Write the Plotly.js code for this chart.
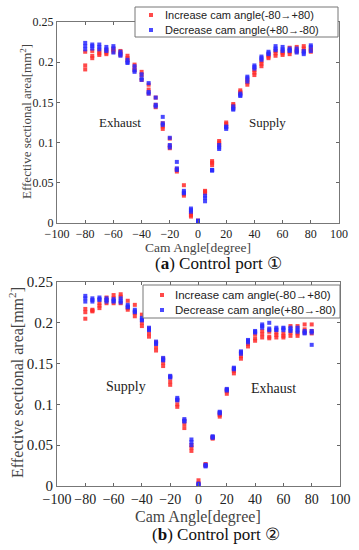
<!DOCTYPE html>
<html>
<head>
<meta charset="utf-8">
<script src="https://cdn.plot.ly/plotly-3.0.1.min.js"></script>
<style>
html,body{margin:0;padding:0;background:#fff;}
#chart{width:359px;height:550px;}
</style>
</head>
<body>
<div id="chart"></div>
<script>
// Cam angles (degree)
const angles = [-80,-75,-70,-65,-60,-55,-50,-45,-40,-35,-30,-25,-20,-15,-10,-5,0,5,10,15,20,25,30,35,40,45,50,55,60,65,70,75,80];

// (a) Control port 1 — Increase cam angle, three repeated runs
const aInc1 = [0.213,0.214,0.214,0.215,0.217,0.214,0.208,0.197,0.188,0.172,0.156,0.124,0.105,0.067,0.047,0.012,0.003,0.040,0.077,0.102,0.125,0.148,0.165,0.178,0.190,0.201,0.209,0.214,0.213,0.218,0.219,0.220,0.217];
const aInc2 = [0.196,0.208,0.211,0.212,0.215,0.212,0.205,0.193,0.184,0.166,0.147,0.120,0.096,0.066,0.036,0.010,0.002,0.039,0.075,0.100,0.123,0.146,0.163,0.175,0.187,0.198,0.207,0.211,0.211,0.213,0.215,0.217,0.215];
const aInc3 = [0.191,0.205,0.209,0.210,0.213,0.209,0.202,0.190,0.178,0.161,0.144,0.117,0.093,0.064,0.034,0.008,0.001,0.037,0.072,0.097,0.120,0.143,0.161,0.172,0.184,0.195,0.205,0.208,0.209,0.210,0.213,0.214,0.213];
// (a) Control port 1 — Decrease cam angle
const aDec1 = [0.224,0.222,0.222,0.219,0.220,0.213,0.203,0.195,0.185,0.174,0.156,0.132,0.106,0.076,0.040,0.018,0.003,0.034,0.066,0.097,0.120,0.145,0.161,0.182,0.196,0.207,0.213,0.220,0.219,0.217,0.217,0.214,0.221];
const aDec2 = [0.220,0.220,0.219,0.216,0.217,0.210,0.200,0.190,0.180,0.163,0.147,0.124,0.097,0.068,0.038,0.016,0.002,0.031,0.066,0.094,0.119,0.142,0.159,0.180,0.194,0.205,0.211,0.217,0.216,0.215,0.214,0.212,0.219];
const aDec3 = [0.216,0.217,0.216,0.214,0.212,0.208,0.199,0.188,0.178,0.161,0.145,0.122,0.094,0.066,0.037,0.014,0.001,0.027,0.065,0.092,0.117,0.141,0.158,0.176,0.192,0.203,0.210,0.215,0.214,0.214,0.212,0.210,0.214];

// (b) Control port 2 — Increase cam angle
const bInc1 = [0.217,0.216,0.224,0.231,0.234,0.235,0.227,0.222,0.210,0.193,0.176,0.156,0.133,0.105,0.080,0.050,0.007,0.027,0.060,0.089,0.118,0.143,0.163,0.177,0.186,0.190,0.189,0.188,0.187,0.196,0.196,0.198,0.198];
const bInc2 = [0.213,0.215,0.221,0.228,0.230,0.232,0.218,0.212,0.200,0.187,0.170,0.151,0.128,0.100,0.076,0.047,0.003,0.026,0.059,0.087,0.116,0.141,0.159,0.174,0.181,0.186,0.183,0.185,0.184,0.188,0.187,0.192,0.190];
const bInc3 = [0.205,0.214,0.218,0.224,0.224,0.224,0.216,0.208,0.196,0.183,0.166,0.147,0.124,0.097,0.071,0.043,0.002,0.025,0.058,0.085,0.113,0.138,0.156,0.171,0.178,0.182,0.181,0.182,0.182,0.184,0.184,0.188,0.187];
// (b) Control port 2 — Decrease cam angle
const bDec1 = [0.233,0.230,0.231,0.230,0.229,0.230,0.222,0.216,0.206,0.194,0.177,0.157,0.135,0.108,0.082,0.057,0.003,0.026,0.061,0.091,0.119,0.145,0.165,0.179,0.190,0.198,0.200,0.194,0.194,0.194,0.194,0.190,0.190];
const bDec2 = [0.230,0.228,0.229,0.228,0.227,0.227,0.220,0.214,0.204,0.192,0.175,0.155,0.134,0.106,0.080,0.054,0.002,0.025,0.060,0.090,0.118,0.144,0.164,0.178,0.189,0.196,0.193,0.192,0.193,0.192,0.191,0.188,0.188];
const bDec3 = [0.226,0.226,0.228,0.226,0.226,0.225,0.219,0.213,0.203,0.191,0.174,0.154,0.133,0.105,0.079,0.050,0.001,0.024,0.059,0.089,0.117,0.143,0.162,0.176,0.188,0.194,0.191,0.191,0.191,0.190,0.189,0.187,0.173];

const incName = 'Increase cam angle(-80\u2192+80)';
const decName = 'Decrease cam angle(+80\u2192-80)';
const xTickVals = [-100,-80,-60,-40,-20,0,20,40,60,80,100];
const yTickVals = [0,0.05,0.1,0.15,0.2,0.25];
const yTickText = ['0','0.05','0.1','0.15','0.2','0.25'];

function join(runs){
  const xs=[], ys=[];
  runs.forEach(r=>{ r.forEach((v,i)=>{ xs.push(angles[i]); ys.push(v); }); });
  return {x:xs, y:ys};
}
const RED='#ff2a2a', BLUE='#2a2aff';
function tr(runs, name, color, xa, ya){
  const d=join(runs);
  return {x:d.x, y:d.y, type:'scatter', mode:'markers', name:name,
    xaxis:xa, yaxis:ya, showlegend:false,
    marker:{symbol:'square', size:4, color:color, opacity:0.85, line:{width:0}}};
}

const data = [
  tr([aInc1,aInc2,aInc3], incName, RED, 'x','y'),
  tr([aDec1,aDec2,aDec3], decName, BLUE, 'x','y'),
  tr([bInc1,bInc2,bInc3], incName, RED, 'x2','y2'),
  tr([bDec1,bDec2,bDec3], decName, BLUE, 'x2','y2')
];

const W=359,H=550;
const px=(a,b)=>[a/W,b/W];
const py=(top,bot)=>[1-bot/H,1-top/H];
const PX=v=>v/W, PY=v=>1-v/H;
const serif='Liberation Serif, Times New Roman, serif';
const sans='Liberation Sans, Arial, sans-serif';
function xax(domain, anchor, fs){
  return {domain:domain, anchor:anchor, range:[-100,100], tickvals:xTickVals, tickangle:0,
    ticks:'inside', ticklen:3, tickcolor:'#666', showline:true, linecolor:'#777', linewidth:1,
    mirror:'ticks', showgrid:false, zeroline:false, tickfont:{family:serif,size:fs,color:'#222'}};
}
function yax(domain, anchor, fs){
  return {domain:domain, anchor:anchor, range:[0,0.25], tickvals:yTickVals, ticktext:yTickText,
    ticks:'inside', ticklen:3, tickcolor:'#666', showline:true, linecolor:'#777', linewidth:1,
    mirror:'ticks', showgrid:false, zeroline:false, tickfont:{family:serif,size:fs,color:'#222'}};
}
function ann(text,x,y,size,extra){
  return Object.assign({text:text, x:x, y:y, xref:'paper', yref:'paper', showarrow:false,
    xanchor:'center', yanchor:'middle', font:{family:serif,size:size,color:'#222'}}, extra||{});
}
function legendBox(x0,y0,x1,y1){
  return {type:'rect', xref:'paper', yref:'paper', x0:PX(x0), x1:PX(x1), y0:PY(y1), y1:PY(y0),
    fillcolor:'#fff', line:{color:'#777', width:1}, layer:'above'};
}
function legendMark(cx,cy,color){
  return {type:'rect', xref:'paper', yref:'paper', x0:PX(cx-2), x1:PX(cx+2), y0:PY(cy+2), y1:PY(cy-2),
    fillcolor:color, opacity:0.85, line:{width:0}, layer:'above'};
}

const layout = {
  width:W, height:H, margin:{l:0,r:0,t:0,b:0}, paper_bgcolor:'#fff', plot_bgcolor:'#fff',
  showlegend:false,
  xaxis: xax(px(57,339),'y',12),
  yaxis: yax(py(22,223),'x',12),
  xaxis2: xax(px(57,340),'y2',14),
  yaxis2: yax(py(282,486),'x2',15),
  shapes:[
    legendBox(135,7,338,37), legendMark(151,15,RED), legendMark(151,30,BLUE),
    legendBox(143,285,340,318), legendMark(162,295,RED), legendMark(162,310,BLUE)
  ],
  annotations:[
    {text:'Exhaust', x:-55, y:0.125, xref:'x', yref:'y', showarrow:false, xanchor:'center', yanchor:'middle', font:{family:serif,size:13,color:'#222'}},
    {text:'Supply', x:49, y:0.125, xref:'x', yref:'y', showarrow:false, xanchor:'center', yanchor:'middle', font:{family:serif,size:13,color:'#222'}},
    {text:'Supply', x:-51, y:0.122, xref:'x2', yref:'y2', showarrow:false, xanchor:'center', yanchor:'middle', font:{family:serif,size:14,color:'#222'}},
    {text:'Exhaust', x:53, y:0.12, xref:'x2', yref:'y2', showarrow:false, xanchor:'center', yanchor:'middle', font:{family:serif,size:14,color:'#222'}},
    ann('Cam Angle[degree]', PX(198), PY(247), 13.5, {font:{family:serif,size:13.5,color:'#444'}}),
    ann('Cam Angle[degree]', PX(198), PY(517), 16, {font:{family:serif,size:16,color:'#444'}}),
    ann('Effective sectional area[mm<sup>2</sup>]', PX(26), PY(122), 13, {textangle:-90, font:{family:serif,size:13,color:'#444'}}),
    ann('Effective sectional area[mm<sup>2</sup>]', PX(16), PY(383), 16, {textangle:-90, font:{family:serif,size:16,color:'#444'}}),
    ann('(<b>a</b>) Control port \u2460', PX(218), PY(263), 17, {font:{family:serif,size:17,color:'#111'}}),
    ann('(<b>b</b>) Control port \u2461', PX(216), PY(534), 17, {font:{family:serif,size:17,color:'#111'}}),
    {text:incName, x:PX(163), y:PY(15), xref:'paper', yref:'paper', showarrow:false, xanchor:'left', yanchor:'middle', font:{family:sans,size:11,color:'#222'}},
    {text:decName, x:PX(163), y:PY(30), xref:'paper', yref:'paper', showarrow:false, xanchor:'left', yanchor:'middle', font:{family:sans,size:11,color:'#222'}},
    {text:incName, x:PX(173), y:PY(295), xref:'paper', yref:'paper', showarrow:false, xanchor:'left', yanchor:'middle', font:{family:sans,size:11.5,color:'#222'}},
    {text:decName, x:PX(173), y:PY(310), xref:'paper', yref:'paper', showarrow:false, xanchor:'left', yanchor:'middle', font:{family:sans,size:11.5,color:'#222'}}
  ]
};

Plotly.newPlot('chart', data, layout, {displayModeBar:false, staticPlot:true});
</script>
</body>
</html>
